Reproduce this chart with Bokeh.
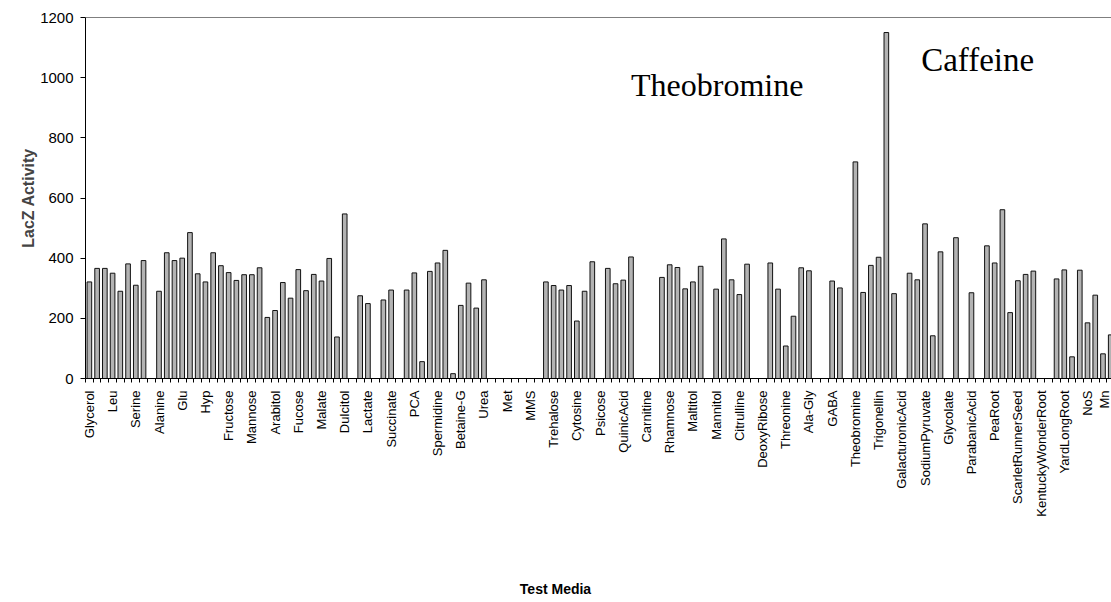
import math
from bokeh.plotting import figure
from bokeh.models import Range1d, FixedTicker, Span, Label
from bokeh.embed import file_html
from bokeh.resources import INLINE

# labelled media (every third category carries a label)
labels = ["Glycerol", "Leu", "Serine", "Alanine", "Glu", "Hyp", "Fructose", "Mannose",
          "Arabitol", "Fucose", "Malate", "Dulcitol", "Lactate", "Succinate", "PCA",
          "Spermidine", "Betaine-G", "Urea", "Met", "MMS", "Trehalose", "Cytosine",
          "Psicose", "QuinicAcid", "Carnitine", "Rhamnose", "Maltitol", "Mannitol",
          "Citrulline", "DeoxyRibose", "Threonine", "Ala-Gly", "GABA", "Theobromine",
          "Trigonellin", "GalacturonicAcid", "SodiumPyruvate", "Glycolate",
          "ParabanicAcid", "PeaRoot", "ScarletRunnerSeed", "KentuckyWonderRoot",
          "YardLongRoot", "NoS", "Mn"]
label_step = 3

# LacZ activity for each test medium, in axis order
activity = [321, 366, 366, 350, 290, 381, 310, 392, 0, 290,
            418, 392, 400, 485, 348, 321, 418, 375, 352, 326,
            345, 345, 368, 203, 226, 319, 267, 362, 292, 346,
            324, 399, 138, 547, 0, 275, 249, 0, 261, 294,
            0, 294, 351, 56, 356, 384, 426, 16, 243, 317,
            234, 328, 0, 0, 0, 0, 0, 0, 0, 321,
            309, 294, 309, 191, 290, 388, 0, 366, 315, 327,
            404, 0, 0, 0, 336, 378, 369, 298, 321, 373,
            0, 297, 464, 328, 279, 380, 0, 0, 384, 297,
            108, 207, 368, 358, 0, 0, 324, 301, 0, 720,
            286, 376, 403, 1150, 282, 0, 350, 328, 514, 142,
            421, 0, 468, 0, 285, 0, 441, 384, 561, 219,
            325, 346, 357, 0, 0, 331, 361, 72, 360, 185,
            277, 82, 145]

annotations = [("Theobromine", 70.0, 975, "32px"), ("Caffeine", 107.5, 1058, "33px")]

positions = list(range(len(activity)))
tick_pos = [i * label_step for i in range(len(labels))]

p = figure(width=1111, height=602, output_backend="svg", toolbar_location=None,
           x_range=Range1d(-0.5, 132.1), y_range=Range1d(0, 1200),
           min_border_left=85, min_border_right=0, min_border_top=17,
           min_border_bottom=224)
p.outline_line_color = None
p.grid.grid_line_color = None
p.background_fill_color = "white"
p.border_fill_color = "white"

p.vbar(x=positions, top=activity, width=0.6, bottom=0,
       fill_color="#b3b3b3", line_color="#111111", line_width=1)

p.add_layout(Span(location=1200, dimension="width", line_color="black", line_width=1.2))

xa = p.xaxis[0]
xa.ticker = FixedTicker(ticks=tick_pos,
                        minor_ticks=[i - 0.5 for i in range(len(activity) + 1)])
xa.major_label_overrides = {t: lab for t, lab in zip(tick_pos, labels)}
xa.major_label_orientation = math.pi / 2
xa.major_tick_line_color = None
xa.minor_tick_line_color = "black"
xa.minor_tick_out = 4
xa.minor_tick_in = 0
xa.major_label_standoff = 6
xa.major_label_text_font = "Liberation Sans"
xa.major_label_text_font_size = "13px"
xa.major_label_text_color = "black"
xa.axis_line_color = "black"

ya = p.yaxis[0]
ya.ticker = FixedTicker(ticks=[0, 200, 400, 600, 800, 1000, 1200])
ya.minor_tick_line_color = None
ya.major_tick_out = 5
ya.major_tick_in = 0
ya.major_label_standoff = 7
ya.major_label_text_font = "Liberation Sans"
ya.major_label_text_font_size = "15px"
ya.major_label_text_color = "black"
ya.axis_line_color = "black"
ya.axis_label = "LacZ Activity"
ya.axis_label_text_font = "Liberation Sans"
ya.axis_label_text_font_style = "bold"
ya.axis_label_text_font_size = "16px"
ya.axis_label_standoff = 0

# x-axis title, in the panel below the axis
p.add_layout(Label(x=470, y=-53, x_units="screen", y_units="screen", text="Test Media",
                   text_font="Liberation Sans", text_font_style="bold",
                   text_font_size="14px", text_align="center", text_baseline="middle",
                   text_color="black"), "below")

for txt, xv, yv, fs in annotations:
    p.add_layout(Label(x=xv, y=yv, text=txt, text_font="Liberation Serif",
                       text_font_size=fs, text_color="black",
                       text_baseline="alphabetic"))

open("out.html", "w").write(file_html(p, INLINE))
